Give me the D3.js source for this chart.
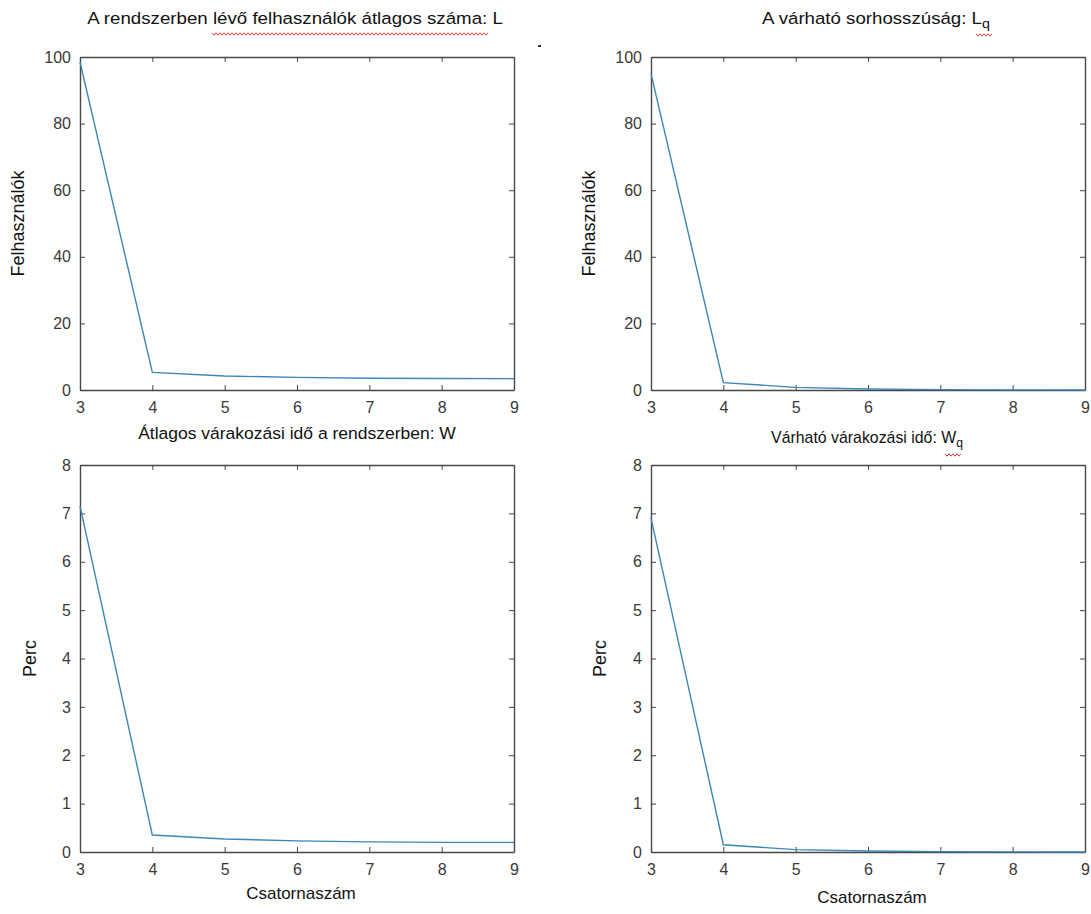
<!DOCTYPE html>
<html>
<head>
<meta charset="utf-8">
<script src="https://cdn.jsdelivr.net/npm/d3@7/dist/d3.min.js"></script>
<style>
    body { margin: 0; background: #ffffff; }
    svg text { font-family: "Liberation Sans", Arial, sans-serif; }
</style>
</head>
<body>
<script>
// channel counts (x axis) and the four measured series
const channels = [3, 4, 5, 6, 7, 8, 9];
const usersInSystem = [98.5, 5.3, 4.2, 3.8, 3.55, 3.45, 3.4];   // L
const queueLength = [95, 2.2, 0.8, 0.3, 0.12, 0.05, 0.02];      // Lq
const waitInSystem = [7.15, 0.35, 0.27, 0.23, 0.21, 0.2, 0.2];  // W
const waitInQueue = [6.9, 0.15, 0.05, 0.02, 0.008, 0.003, 0.001]; // Wq

const xTicks = [3, 4, 5, 6, 7, 8, 9];
const userTicks = [0, 20, 40, 60, 80, 100];
const minuteTicks = [0, 1, 2, 3, 4, 5, 6, 7, 8];

const titles = [
    ["A rendszerben lévő felhasználók átlagos száma: L", ""],
    ["A várható sorhosszúság: L", "q"],
    ["Átlagos várakozási idő a rendszerben: W", ""],
    ["Várható várakozási idő: W", "q"]
];
const yLabels = ["Felhasználók", "Felhasználók", "Perc", "Perc"];
const xLabel = "Csatornaszám";

const width = 1091;
const height = 914;
const lineColor = "#3a87b8";
const axisColor = "#474747";
const tickLen = 5;

let svg = d3.select("body").append("svg")
    .attr("width", width)
    .attr("height", height);

// panel boxes, left/top/right/bottom in page pixels
let panels = [
    { box: [80, 57, 514, 390], values: usersInSystem, yMax: 100, yTicks: userTicks,
      title: titles[0], titleX: 295, titleY: 24, titleW: 416,
      yLabel: yLabels[0], yLabelX: 24, xLabelY: null },
    { box: [651, 57, 1085, 390], values: queueLength, yMax: 100, yTicks: userTicks,
      title: titles[1], titleX: 876, titleY: 24, titleW: 228,
      yLabel: yLabels[1], yLabelX: 595, xLabelY: null },
    { box: [80, 465, 514, 852], values: waitInSystem, yMax: 8, yTicks: minuteTicks,
      title: titles[2], titleX: 297, titleY: 439, titleW: 318,
      yLabel: yLabels[2], yLabelX: 36, xLabelY: 899 },
    { box: [651, 465, 1085, 852], values: waitInQueue, yMax: 8, yTicks: minuteTicks,
      title: titles[3], titleX: 867, titleY: 443, titleW: 192,
      yLabel: yLabels[3], yLabelX: 606, xLabelY: 903 }
];

// squeeze or stretch a centred text to a given width
function FitText(t, cx, cy, w) {
    let len = t.node().getComputedTextLength();
    let s = w / len;
    t.attr("x", 0).attr("y", 0)
        .attr("transform", "translate(" + cx + "," + cy + ") scale(" + s + ",1)");
}

function CreatePanel(p) {
    let [x0, y0, x1, y1] = p.box;

    let x = d3.scaleLinear().domain([3, 9]).range([x0, x1]);
    let y = d3.scaleLinear().domain([0, p.yMax]).range([y1, y0]);

    let g = svg.append("g");
    let fmt = d3.format("d");

    // bottom / left axes with inward ticks (matlab style)
    let bottom = g.append("g")
        .attr("transform", "translate(0," + y1 + ")")
        .call(d3.axisBottom(x).tickValues(xTicks).tickFormat(fmt)
            .tickSizeInner(-tickLen).tickSizeOuter(0).tickPadding(12));
    let left = g.append("g")
        .attr("transform", "translate(" + x0 + ",0)")
        .call(d3.axisLeft(y).tickValues(p.yTicks).tickFormat(fmt)
            .tickSizeInner(-tickLen).tickSizeOuter(0).tickPadding(9));
    // mirrored top / right ticks without labels
    let top = g.append("g")
        .attr("transform", "translate(0," + y0 + ")")
        .call(d3.axisTop(x).tickValues(xTicks).tickSizeInner(-tickLen).tickSizeOuter(0).tickFormat(""));
    let right = g.append("g")
        .attr("transform", "translate(" + x1 + ",0)")
        .call(d3.axisRight(y).tickValues(p.yTicks).tickSizeInner(-tickLen).tickSizeOuter(0).tickFormat(""));

    [bottom, left, top, right].forEach(function (a) {
        a.select(".domain").attr("stroke", axisColor).attr("stroke-width", 1.4);
        a.selectAll(".tick line").attr("stroke", axisColor).attr("stroke-width", 1);
        a.selectAll(".tick text")
            .attr("fill", "#3a3a3a")
            .style("font-size", "16px");
    });

    // the data line
    let line = d3.line()
        .x(function (d, i) { return x(channels[i]); })
        .y(function (d) { return y(d); });

    g.append("path")
        .datum(p.values)
        .attr("fill", "none")
        .attr("stroke", lineColor)
        .attr("stroke-width", 1.4)
        .attr("d", line);

    // title, with optional subscript
    let t = g.append("text")
        .attr("text-anchor", "middle")
        .attr("fill", "#111")
        .style("font-size", "17px")
        .text(p.title[0]);
    if (p.title[1] !== "") {
        t.append("tspan")
            .attr("dy", 4)
            .style("font-size", "13px")
            .text(p.title[1]);
    }
    FitText(t, p.titleX, p.titleY, p.titleW);

    // y label
    g.append("text")
        .attr("transform", "translate(" + p.yLabelX + "," + ((y0 + y1) / 2) + ") rotate(-90)")
        .attr("text-anchor", "middle")
        .attr("fill", "#111")
        .style("font-size", "18px")
        .text(p.yLabel);

    // x label only on the bottom row
    if (p.xLabelY !== null) {
        g.append("text")
            .attr("x", (x0 + x1) / 2 + 4)
            .attr("y", p.xLabelY)
            .attr("text-anchor", "middle")
            .attr("fill", "#111")
            .style("font-size", "17px")
            .text(xLabel);
    }
}

// red spell check squiggle under words
function Squiggle(xa, xb, yy) {
    let pts = [];
    let up = true;
    for (let xx = xa; xx <= xb; xx += 2) {
        pts.push([xx, yy + (up ? -1.2 : 1.2)]);
        up = !up;
    }
    svg.append("path")
        .attr("d", d3.line()(pts))
        .attr("fill", "none")
        .attr("stroke", "#e0393b")
        .attr("stroke-width", 1);
}

panels.forEach(CreatePanel);

Squiggle(212, 488, 34);
Squiggle(976, 992, 35);
Squiggle(945, 962, 455);

// stray mark in the screenshot
svg.append("rect").attr("x", 538).attr("y", 45).attr("width", 3).attr("height", 2).attr("fill", "#333");
</script>
</body>
</html>
